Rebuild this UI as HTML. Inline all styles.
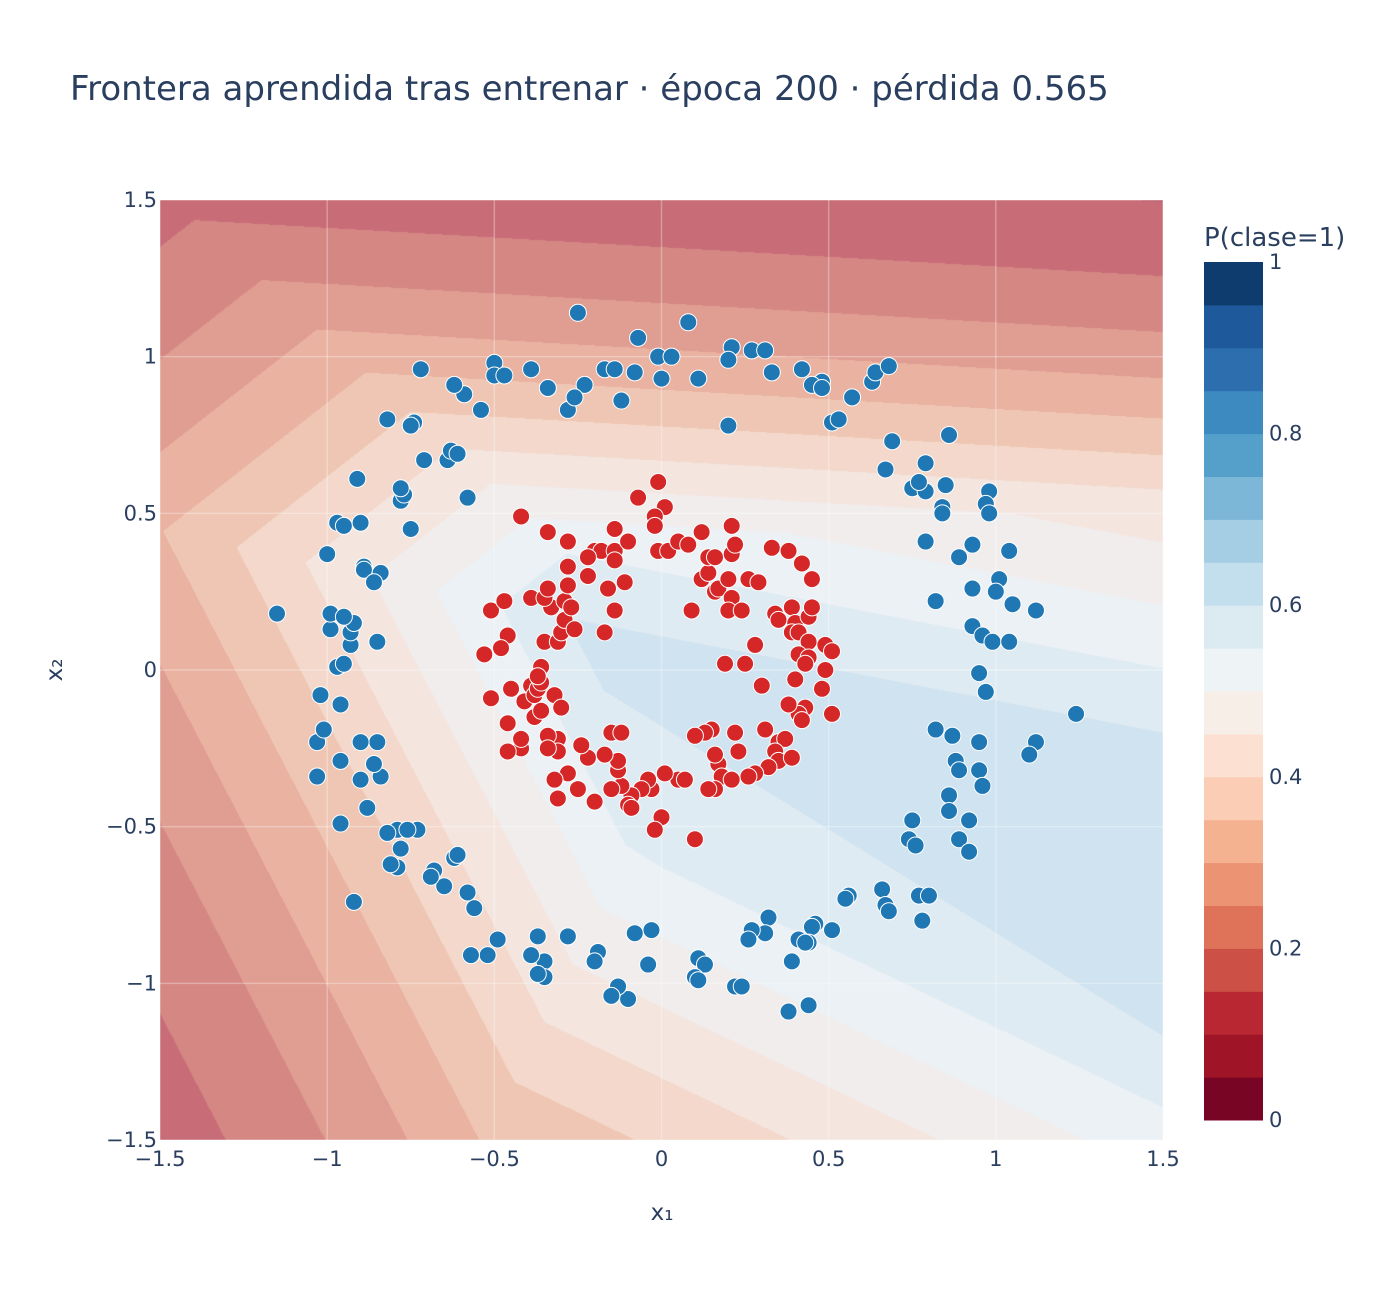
<!DOCTYPE html>
<html><head><meta charset="utf-8"><style>
html,body{margin:0;padding:0;background:#fff;}
#wrap{position:relative;width:1400px;height:1300px;overflow:hidden;font-family:"DejaVu Sans","Liberation Sans",sans-serif;color:#2a3f5f;}
canvas{position:absolute;left:160px;top:200px;}
svg{position:absolute;left:0;top:0;}
</style></head><body>
<div id="wrap">
<canvas id="cv" width="1003" height="940"></canvas>
<svg id="sv" width="1400" height="1300"></svg>
</div>
<script>
const blueX=[-0.25,0.08,-0.07,-0.01,0.03,0.21,0.27,0.31,0.20,0.33,0.42,0.48,0.45,0.48,0.57,0.63,0.64,0.68,0.11,0.00,-0.08,-0.12,-0.17,-0.14,-0.28,-0.23,-0.26,-0.34,-0.39,-0.50,-0.50,-0.47,-0.54,-0.59,-0.62,-0.72,-0.82,-0.74,-0.75,0.20,0.51,0.53,0.69,0.86,0.79,0.67,0.75,0.79,0.77,0.85,0.84,0.84,0.98,0.97,0.98,0.79,0.89,0.93,1.04,0.82,0.93,1.01,1.00,1.05,1.12,0.93,0.96,0.99,1.04,0.95,0.97,1.24,0.82,0.87,0.88,0.89,0.95,0.96,0.95,1.12,1.10,0.86,0.86,0.89,0.92,0.92,0.75,0.74,0.76,0.77,0.80,0.78,0.66,0.67,0.68,0.56,0.55,0.51,0.46,0.45,0.44,0.41,0.43,0.39,0.44,0.38,0.32,0.31,0.27,0.26,0.22,0.24,0.11,0.13,0.10,0.11,-0.03,-0.08,-0.04,-0.10,-0.13,-0.15,-0.19,-0.20,-0.28,-0.35,-0.37,-0.35,-0.37,-0.39,-0.49,-0.52,-0.57,-0.56,-0.58,-0.65,-0.68,-0.62,-0.69,-0.73,-0.79,-0.76,-0.82,-0.78,-0.79,-0.81,-0.92,-0.88,-0.96,-0.84,-0.86,-0.90,-0.85,-0.90,-0.96,-1.03,-1.03,-1.01,-0.96,-1.02,-0.97,-0.95,-0.93,-0.93,-0.92,-0.99,-0.99,-0.95,-1.15,-1.00,-0.97,-0.95,-0.90,-0.91,-0.89,-0.89,-0.84,-0.86,-0.85,-0.78,-0.77,-0.78,-0.75,-0.71,-0.64,-0.63,-0.61,-0.58,-0.61];
const blueY=[1.14,1.11,1.06,1.00,1.00,1.03,1.02,1.02,0.99,0.95,0.96,0.92,0.91,0.90,0.87,0.92,0.95,0.97,0.93,0.93,0.95,0.86,0.96,0.96,0.83,0.91,0.87,0.90,0.96,0.98,0.94,0.94,0.83,0.88,0.91,0.96,0.80,0.79,0.78,0.78,0.79,0.80,0.73,0.75,0.66,0.64,0.58,0.57,0.60,0.59,0.52,0.50,0.57,0.53,0.50,0.41,0.36,0.40,0.38,0.22,0.26,0.29,0.25,0.21,0.19,0.14,0.11,0.09,0.09,-0.01,-0.07,-0.14,-0.19,-0.21,-0.29,-0.32,-0.32,-0.37,-0.23,-0.23,-0.27,-0.40,-0.45,-0.54,-0.48,-0.58,-0.48,-0.54,-0.56,-0.72,-0.72,-0.80,-0.70,-0.75,-0.77,-0.72,-0.73,-0.83,-0.81,-0.82,-0.87,-0.86,-0.87,-0.93,-1.07,-1.09,-0.79,-0.84,-0.83,-0.86,-1.01,-1.01,-0.92,-0.94,-0.98,-0.99,-0.83,-0.84,-0.94,-1.05,-1.01,-1.04,-0.90,-0.93,-0.85,-0.93,-0.85,-0.98,-0.97,-0.91,-0.86,-0.91,-0.91,-0.76,-0.71,-0.69,-0.64,-0.60,-0.66,-0.51,-0.51,-0.51,-0.52,-0.57,-0.63,-0.62,-0.74,-0.44,-0.49,-0.34,-0.30,-0.35,-0.23,-0.23,-0.29,-0.34,-0.23,-0.19,-0.11,-0.08,0.01,0.02,0.08,0.12,0.15,0.13,0.18,0.17,0.18,0.37,0.47,0.46,0.47,0.61,0.33,0.32,0.31,0.28,0.09,0.54,0.56,0.58,0.45,0.67,0.67,0.70,0.69,0.55,-0.59];
const redX=[-0.01,0.01,-0.02,-0.02,-0.07,-0.01,0.02,0.05,0.08,0.12,0.09,0.12,0.14,0.14,0.16,0.21,0.21,0.22,0.16,0.17,0.20,0.21,0.20,0.24,0.33,0.38,0.42,0.45,0.26,0.29,0.34,0.35,0.39,0.40,0.44,0.45,0.39,0.41,0.44,0.41,0.44,0.43,0.49,0.51,0.49,0.48,0.40,0.43,0.41,0.42,0.51,0.28,0.25,0.19,0.30,0.31,0.35,0.37,0.34,0.35,0.39,0.32,0.28,0.26,0.17,0.23,0.22,0.15,0.13,0.10,0.18,0.21,0.16,0.14,0.05,0.07,0.01,-0.03,0.00,-0.02,0.10,-0.04,-0.06,-0.09,-0.10,-0.09,-0.12,-0.15,-0.13,-0.13,-0.15,-0.12,-0.17,-0.22,-0.20,-0.25,-0.28,-0.32,-0.31,-0.31,-0.31,-0.34,-0.34,-0.24,-0.42,-0.42,-0.46,-0.46,-0.45,-0.41,-0.39,-0.38,-0.38,-0.36,-0.37,-0.36,-0.32,-0.30,-0.36,-0.37,-0.35,-0.31,-0.30,-0.29,-0.33,-0.39,-0.35,-0.34,-0.29,-0.27,-0.26,-0.28,-0.28,-0.28,-0.34,-0.42,-0.20,-0.18,-0.22,-0.22,-0.16,-0.17,-0.14,-0.11,-0.14,-0.14,-0.14,-0.10,-0.51,-0.47,-0.46,-0.48,-0.53,-0.51,0.38,0.16];
const redY=[0.60,0.52,0.49,0.46,0.55,0.38,0.38,0.41,0.40,0.44,0.19,0.29,0.31,0.36,0.36,0.46,0.37,0.40,0.25,0.26,0.29,0.23,0.19,0.19,0.39,0.38,0.34,0.29,0.29,0.28,0.18,0.16,0.20,0.15,0.17,0.20,0.12,0.12,0.09,0.05,0.04,0.02,0.08,0.06,0.00,-0.06,-0.03,-0.12,-0.14,-0.16,-0.14,0.08,0.02,0.02,-0.05,-0.19,-0.23,-0.22,-0.26,-0.29,-0.28,-0.31,-0.33,-0.34,-0.30,-0.26,-0.20,-0.19,-0.20,-0.21,-0.34,-0.35,-0.38,-0.38,-0.35,-0.35,-0.33,-0.38,-0.47,-0.51,-0.54,-0.35,-0.38,-0.40,-0.43,-0.44,-0.37,-0.38,-0.32,-0.29,-0.20,-0.20,-0.27,-0.28,-0.42,-0.38,-0.33,-0.35,-0.41,-0.22,-0.26,-0.21,-0.25,-0.24,-0.25,-0.22,-0.26,-0.17,-0.06,-0.10,-0.05,-0.08,-0.15,-0.13,-0.06,-0.04,-0.08,-0.12,0.01,-0.02,0.09,0.09,0.12,0.16,0.20,0.23,0.23,0.26,0.22,0.20,0.13,0.27,0.33,0.41,0.44,0.49,0.38,0.38,0.36,0.30,0.26,0.12,0.19,0.28,0.45,0.38,0.35,0.41,0.19,0.22,0.11,0.07,0.05,-0.09,-0.11,-0.27];
const tickVals=[-1.5,-1,-0.5,0,0.5,1,1.5];
const tickText=["−1.5","−1","−0.5","0","0.5","1","1.5"];
const cbTickVals=[0,0.2,0.4,0.6,0.8,1];
const cbTickText=["0","0.2","0.4","0.6","0.8","1"];
const bandColors=[[120,5,35],[160,20,40],[185,40,50],[205,80,70],[222,115,90],[236,147,115],[245,178,145],[250,205,180],[252,225,210],[248,238,232],[238,243,245],[220,234,242],[195,222,236],[165,205,227],[125,183,216],[85,160,203],[60,138,192],[45,110,175],[30,90,155],[15,60,110]];

const X0=160,X1=1163,Y0=200,Y1=1140;
function sx(v){return X0+(v+1.5)/3*(X1-X0);}
function sy(v){return Y1-(v+1.5)/3*(Y1-Y0);}
function logit(x,y){
  const T=-1.95*(y-0.46)-0.12*x;
  const UL=0.79+0.81*x-0.97*y;
  const LL=0.645+1.17*x+0.57*y;
  const B1=0.487+0.455*y+0.30*x;
  const B2=0.767+0.9*y+0.46*x;
  const R=0.513-y-0.205*x;
  return Math.min(T,UL,LL,B1,B2,R,0.55);
}
const cv=document.getElementById('cv'),ctx=cv.getContext('2d');
const W=cv.width,H=cv.height,img=ctx.createImageData(W,H),A=0.65,BG=[229,236,246];
for(let j=0;j<H;j++){const y=1.5-3*(j+0.5)/H;
  for(let i=0;i<W;i++){const x=-1.5+3*(i+0.5)/W;
    const p=1/(1+Math.exp(-logit(x,y)));let b=Math.floor(p*20);if(b<0)b=0;if(b>19)b=19;
    const c=bandColors[b],k=(j*W+i)*4;
    img.data[k]=BG[0]*(1-A)+c[0]*A;img.data[k+1]=BG[1]*(1-A)+c[1]*A;img.data[k+2]=BG[2]*(1-A)+c[2]*A;img.data[k+3]=255;}}
ctx.putImageData(img,0,0);

const NS='http://www.w3.org/2000/svg',sv=document.getElementById('sv');
function mk(t,a,parent){const e=document.createElementNS(NS,t);for(const k in a)e.setAttribute(k,a[k]);(parent||sv).appendChild(e);return e;}
tickVals.forEach((v,i)=>{
  const gx=mk('line',{x1:sx(v),x2:sx(v),y1:Y0,y2:Y1,stroke:'#fff','stroke-opacity':0.3,'stroke-width':1.5});
  
  
  const gy=mk('line',{x1:X0,x2:X1,y1:sy(v),y2:sy(v),stroke:'#fff','stroke-opacity':0.3,'stroke-width':1.5});
  
  
  const tx=mk('text',{x:sx(v),y:1166,'text-anchor':'middle','font-size':21,fill:'#2a3f5f'});tx.textContent=tickText[i];
  
  
  const ty=mk('text',{x:157,y:sy(v)+7,'text-anchor':'end','font-size':21,fill:'#2a3f5f'});ty.textContent=tickText[i];
  
  
});
function pts(xs,ys,col,name){const g=mk('g',{});
  for(let i=0;i<xs.length;i++){const c=mk('circle',{cx:sx(xs[i]),cy:sy(ys[i]),r:8.5,fill:col,stroke:'#fff','stroke-width':1},g);
    
    }}
pts(blueX,blueY,'#1f77b4','class-0-points');
pts(redX,redY,'#d62728','class-1-points');
const cbTop=262,cbBot=1120,cbX=1204,cbW=59;
for(let b=0;b<20;b++){const h=(cbBot-cbTop)/20,c=bandColors[b];
  const r=mk('rect',{x:cbX,y:cbBot-(b+1)*h,width:cbW,height:h+0.5,fill:`rgb(${c[0]},${c[1]},${c[2]})`});
  
  }
cbTickVals.forEach((v,i)=>{const t=mk('text',{x:1269,y:cbBot-v*(cbBot-cbTop)+7,'font-size':21,fill:'#2a3f5f'});t.textContent=cbTickText[i];
  
  });
const tt=mk('text',{x:70,y:100,'font-size':34,fill:'#2a3f5f'});tt.textContent='Frontera aprendida tras entrenar · época 200 · pérdida 0.565';


const xt=mk('text',{x:662,y:1220,'text-anchor':'middle','font-size':23,fill:'#2a3f5f'});xt.textContent='x₁';


const yt=mk('text',{x:62,y:670,'text-anchor':'middle','font-size':23,fill:'#2a3f5f',transform:'rotate(-90 62 670)'});yt.textContent='x₂';


const ct=mk('text',{x:1204,y:246,'font-size':26,fill:'#2a3f5f'});ct.textContent='P(clase=1)';


</script>
</body></html>
